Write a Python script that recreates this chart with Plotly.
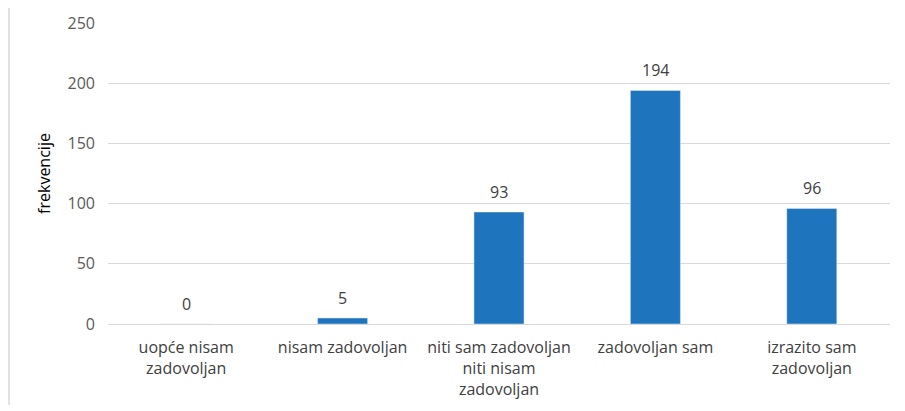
import plotly.graph_objects as go

categories = ["uopće nisam<br>zadovoljan", "nisam zadovoljan",
              "niti sam zadovoljan<br>niti nisam<br>zadovoljan",
              "zadovoljan sam", "izrazito sam<br>zadovoljan"]
values = [0, 5, 93, 194, 96]
y_ticks = [0, 50, 100, 150, 200, 250]

# page has an 8px body margin
W, H = 897, 403
L, R, T, B = 100, 15, 15, 87
ph = H - T - B

fig = go.Figure(go.Bar(
    x=categories, y=values, width=0.32,
    marker_color="#1F74BE", cliponaxis=False,
))
for c, v in zip(categories, values):
    fig.add_annotation(x=c, y=v, text=str(v), showarrow=False,
                       yanchor="bottom", yshift=7,
                       font=dict(size=16, color="#404040", family="Open Sans"))
fig.update_layout(
    width=W, height=H, margin=dict(l=L, r=R, t=T, b=B, autoexpand=False),
    paper_bgcolor="white", plot_bgcolor="white",
    showlegend=False,
    font=dict(family="Open Sans", size=16, color="#595959"),
    xaxis=dict(showgrid=False, showline=True, linecolor="#D9D9D9", linewidth=1,
               ticks="", tickfont=dict(size=16, color="#404040"), fixedrange=True,
               automargin=False, ticklabelstandoff=9),
    yaxis=dict(range=[0, 250], tickvals=y_ticks, showgrid=True, gridcolor="#D9D9D9",
               zeroline=False, ticks="", automargin=False, ticklabelstandoff=12,
               tickfont=dict(size=16, color="#595959"),
               title=dict(text="frekvencije", font=dict(size=16, color="#000000"), standoff=12)),
    shapes=[dict(type="line", xref="paper", yref="paper",
                 x0=(1 - L) / (W - L - R), x1=(1 - L) / (W - L - R),
                 y0=(H - B - 397) / ph, y1=(H - B - 0) / ph,
                 line=dict(color="#D9D9D9", width=1.5))],
)
fig.write_html("out.html")
